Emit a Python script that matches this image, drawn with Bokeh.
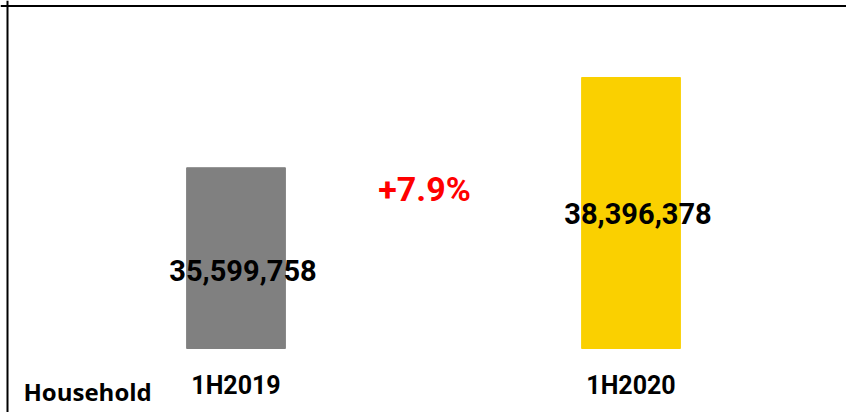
from bokeh.plotting import figure
from bokeh.models import ColumnDataSource, Range1d, Span
from bokeh.core.properties import value
from bokeh.embed import file_html
from bokeh.resources import INLINE

# ---- data ----
categories = ["1H2019", "1H2020"]
households = [35599758, 38396378]
bar_colors = ["#808080", "#FAD000"]
series_name = "Household"
axis_base = 30000000

growth = (households[1] / households[0] - 1) * 100
growth_text = f"+{growth:.1f}%"

xs = list(range(1, len(categories) + 1))
src = ColumnDataSource(dict(
    x=xs,
    top=households,
    color=bar_colors,
    cat=categories,
    base=[axis_base] * len(xs),
    label=[f"{v:,}" for v in households],
    label_y=[(axis_base + v) / 2 for v in households],
    label_dy=[12, 0],
))

W, H = 846, 412
px_per_unit = 395.0
x0 = 1 - 235.5 / px_per_unit
x_end = x0 + W / px_per_unit
px_per_val = 271.0 / (households[1] - axis_base)
y_end = axis_base + 348 / px_per_val
y_start = axis_base - (H - 348) / px_per_val

p = figure(width=W, height=H, output_backend="svg", toolbar_location=None,
           x_range=Range1d(x0, x_end), y_range=Range1d(y_start, y_end),
           x_axis_location=None, y_axis_location=None,
           min_border=0)
p.outline_line_color = None
p.xgrid.visible = False
p.ygrid.visible = False
p.background_fill_color = "white"
p.border_fill_color = "white"

p.vbar(x="x", top="top", bottom=axis_base, width=0.25, color="color", source=src)

FONT = value("Roboto")

p.text(x="x", y="label_y", text="label", source=src, x_offset=7, y_offset="label_dy",
       text_align="center", text_baseline="middle",
       text_font=FONT, text_font_style="bold",
       text_font_size="29px", text_color="black")

p.text(x=[sum(xs) / len(xs)], y=[(axis_base + households[1]) / 2], text=[growth_text],
       x_offset=-9, y_offset=-24,
       text_align="center", text_baseline="middle",
       text_font=FONT, text_font_style="bold",
       text_font_size="34px", text_color="#FF0000")

# category labels
p.text(x="x", y="base", text="cat", source=src, y_offset=37,
       text_align="center", text_baseline="middle",
       text_font=FONT, text_font_style="bold",
       text_font_size="25px", text_color="black")

# series name
p.text(x=[x0], y=[axis_base], text=[series_name], x_offset=23, y_offset=43,
       text_align="left", text_baseline="middle",
       text_font=value("Open Sans"), text_font_style="bold",
       text_font_size="24px", text_color="black")

p.add_layout(Span(location=axis_base + 342.5 / px_per_val, dimension="width",
                  line_color="black", line_width=2))
p.add_layout(Span(location=x0 + 7 / px_per_unit, dimension="height",
                  line_color="black", line_width=2))

open("out.html", "w").write(file_html(p, INLINE))
